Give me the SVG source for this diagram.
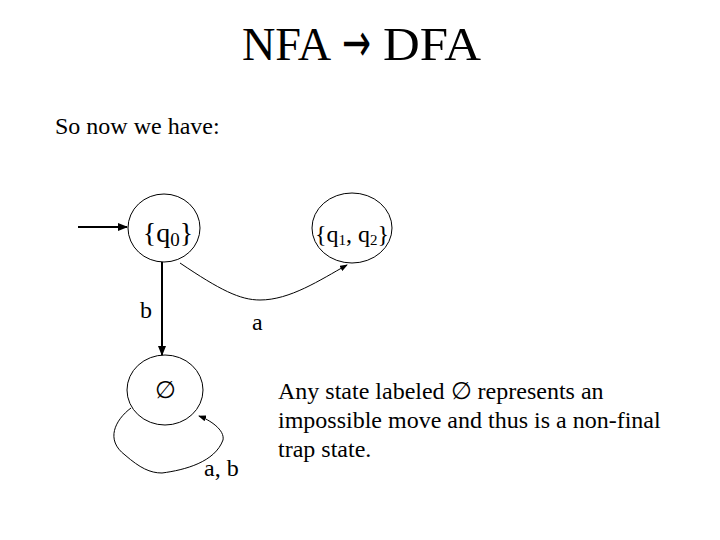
<svg xmlns="http://www.w3.org/2000/svg" width="720" height="540" viewBox="0 0 720 540">
<defs>
<style>
text{font-family:"Liberation Serif","Times New Roman",serif;fill:#000}
.st{fill:none;stroke:#000;stroke-width:1}
.ln{fill:none;stroke:#000}
</style>
<marker id="ah" markerWidth="10" markerHeight="8" refX="9" refY="4" orient="auto" markerUnits="userSpaceOnUse">
<path d="M0,0 L10,4 L0,8 Z" fill="#000"/>
</marker>
<marker id="ahs" markerWidth="8" markerHeight="6" refX="7" refY="3" orient="auto" markerUnits="userSpaceOnUse">
<path d="M0,0 L8,3 L0,6 Z" fill="#000"/>
</marker>
</defs>
<rect width="720" height="540" fill="#fff"/>
<g id="title">
<text x="242" y="60" font-size="46" textLength="89" lengthAdjust="spacingAndGlyphs">NFA</text>
<text x="342" y="61" font-size="54" textLength="29" lengthAdjust="spacingAndGlyphs" style="font-family:'DejaVu Sans',sans-serif">→</text>
<text x="383" y="60" font-size="46" textLength="98" lengthAdjust="spacingAndGlyphs">DFA</text>
</g>
<text x="55" y="134" font-size="24">So now we have:</text>
<g id="q0">
<ellipse class="st" cx="164" cy="228" rx="36" ry="34"/>
<text x="168" y="242" font-size="28" text-anchor="middle">{q<tspan font-size="19" dy="4">0</tspan><tspan dy="-4">}</tspan></text>
</g>
<g id="q12">
<ellipse class="st" cx="352" cy="228" rx="40" ry="35"/>
<text x="352" y="242" font-size="24" text-anchor="middle">{q<tspan font-size="15" dy="3">1</tspan><tspan dy="-3">, q</tspan><tspan font-size="15" dy="3">2</tspan><tspan dy="-3">}</tspan></text>
</g>
<g id="empty">
<ellipse class="st" cx="165" cy="390" rx="38" ry="35"/>
<text x="165" y="398" font-size="24" text-anchor="middle">∅</text>
</g>
<g id="connectors">
<line class="ln" x1="78" y1="227" x2="127" y2="227" stroke-width="2" marker-end="url(#ah)"/>
<line class="ln" x1="162" y1="262" x2="162" y2="355" stroke-width="2" marker-end="url(#ah)"/>
<path class="ln" d="M180,263 C220,290 240,300 260,300 C290,300 320,280 347,265" marker-end="url(#ahs)"/>
<path class="ln" d="M131,408 C115,420 105,440 125,455 C140,468 150,473 162,473 C185,470 215,462 223,440 C225,430 210,420 199,416" marker-end="url(#ahs)"/>
</g>
<text x="140" y="318" font-size="24">b</text>
<text x="252" y="330" font-size="24">a</text>
<text x="204" y="476" font-size="24">a, b</text>
<text font-size="24">
<tspan x="278" y="399">Any state labeled ∅ represents an</tspan>
<tspan x="278" y="428">impossible move and thus is a non-final</tspan>
<tspan x="278" y="457">trap state.</tspan>
</text>
</svg>
